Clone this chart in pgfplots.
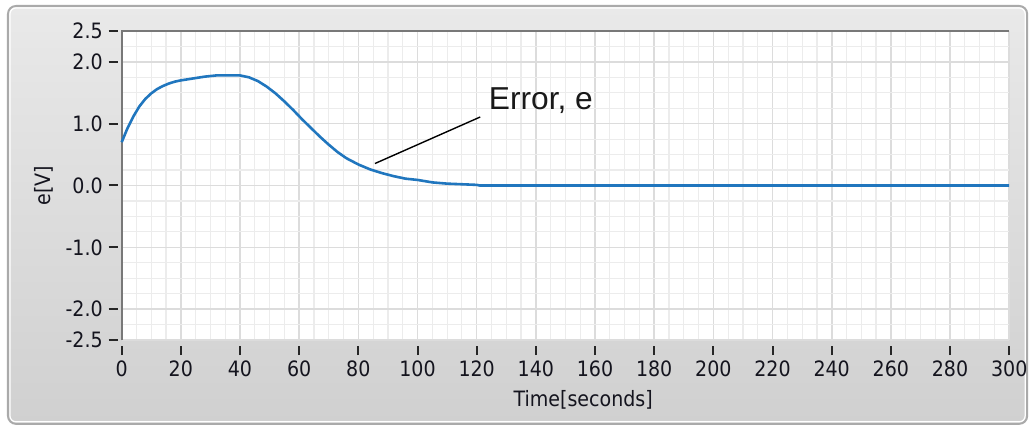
\documentclass[border=0pt]{standalone}
\usepackage{fontspec}
\usepackage{pgfplots}
\pgfplotsset{compat=1.18}
\setmainfont{Liberation Sans}
\newfontfamily\tickfont{DejaVu Sans Condensed}
\definecolor{errblue}{RGB}{32,118,190}
\definecolor{majgrid}{RGB}{220,220,220}
\definecolor{mingrid}{RGB}{236,236,236}
\definecolor{axisgray}{RGB}{120,120,120}
\definecolor{labeltext}{RGB}{20,20,30}

\begin{document}
\begin{tikzpicture}
% page extent and panel background
\path (-61pt,-44pt) rectangle (456pt,170.5pt);
\shade[top color={rgb,255:red,233;green,233;blue,233}, bottom color={rgb,255:red,208;green,208;blue,208}, rounded corners=4pt]
  (-57pt,-42pt) rectangle (454pt,167.5pt);
\draw[draw={rgb,255:red,170;green,170;blue,170}, line width=1pt, rounded corners=4pt]
  (-57pt,-42pt) rectangle (454pt,167.5pt);
\draw[white, line width=0.6pt, rounded corners=3pt]
  (-56pt,-41pt) rectangle (453pt,166.5pt);

\begin{axis}[
  scale only axis,
  width=445pt, height=155pt,
  at={(0,0)}, anchor=south west,
  xmin=0, xmax=300, ymin=-2.5, ymax=2.5,
  axis background/.style={fill=white},
  axis line style={draw=none},
  xtick={0,20,...,300},
  minor xtick={5,10,15,25,30,35,45,50,55,65,70,75,85,90,95,105,110,115,125,130,135,145,150,155,165,170,175,185,190,195,205,210,215,225,230,235,245,250,255,265,270,275,285,290,295},
  ytick={-2.5,-2,-1,0,1,2,2.5},
  yticklabels={-2.5,-2.0,-1.0,0.0,1.0,2.0,2.5},
  minor ytick={-2.25,-1.75,-1.5,-1.25,-0.75,-0.5,-0.25,0.25,0.5,0.75,1.25,1.5,1.75,2.25},
  grid=both,
  major grid style={majgrid, line width=0.8pt},
  minor grid style={mingrid, line width=0.6pt},
  tick align=outside,
  xtick pos=bottom, ytick pos=left,
  major tick length=4.5pt,
  minor tick length=0pt,
  x tick style={yshift=-3pt, line width=1pt, black!85},
  y tick style={xshift=-2pt, line width=1pt, black!85},
  /pgf/number format/assume math mode=true,
  tick label style={font=\tickfont\fontsize{10.6}{12}\selectfont, text=labeltext},
  xticklabel style={yshift=-2.2pt},
  yticklabel style={xshift=-1.5pt},
  xlabel={Time[seconds]},
  xlabel style={at={(axis description cs:0.52,0)}, anchor=center, yshift=-30pt, font=\tickfont\fontsize{10.6}{12}\selectfont, text=labeltext},
  ylabel={e[V]},
  ylabel style={at={(axis description cs:-0.0876,0.5)}, anchor=center, font=\tickfont\fontsize{10.6}{12}\selectfont, text=labeltext},
  clip=false,
]
% plot frame: darker left and top edges
\draw[axisgray, line width=1pt] (rel axis cs:0,0) -- (rel axis cs:0,1) -- (rel axis cs:1,1);

\addplot[errblue, line width=1.3pt] coordinates {
  (0,0.70) (2,0.93) (4,1.12) (6,1.28) (8,1.40) (10,1.49) (12,1.56)
  (14,1.61) (16,1.65) (18,1.68) (20,1.70) (24,1.73) (28,1.76) (32,1.78)
  (36,1.78) (40,1.78) (43,1.75) (46,1.69) (49,1.60) (52,1.49) (55,1.36)
  (58,1.22) (61,1.07) (64,0.93) (67,0.79) (70,0.66) (73,0.54) (76,0.44)
  (80,0.34) (84,0.26) (88,0.20) (92,0.15) (96,0.11) (100,0.09) (105,0.05)
  (110,0.03) (115,0.02) (120,0.01) (121,0.0) (300,0.0)
};

% callout
\draw[black, line width=0.7pt] (axis cs:85.6,0.355) -- (axis cs:121.2,1.108);
\node[anchor=base west, inner sep=0pt, font=\fontsize{15.9}{18}\selectfont, text=black!90]
  at (axis cs:124,1.23) {Error, e};
\end{axis}
\end{tikzpicture}
\end{document}
